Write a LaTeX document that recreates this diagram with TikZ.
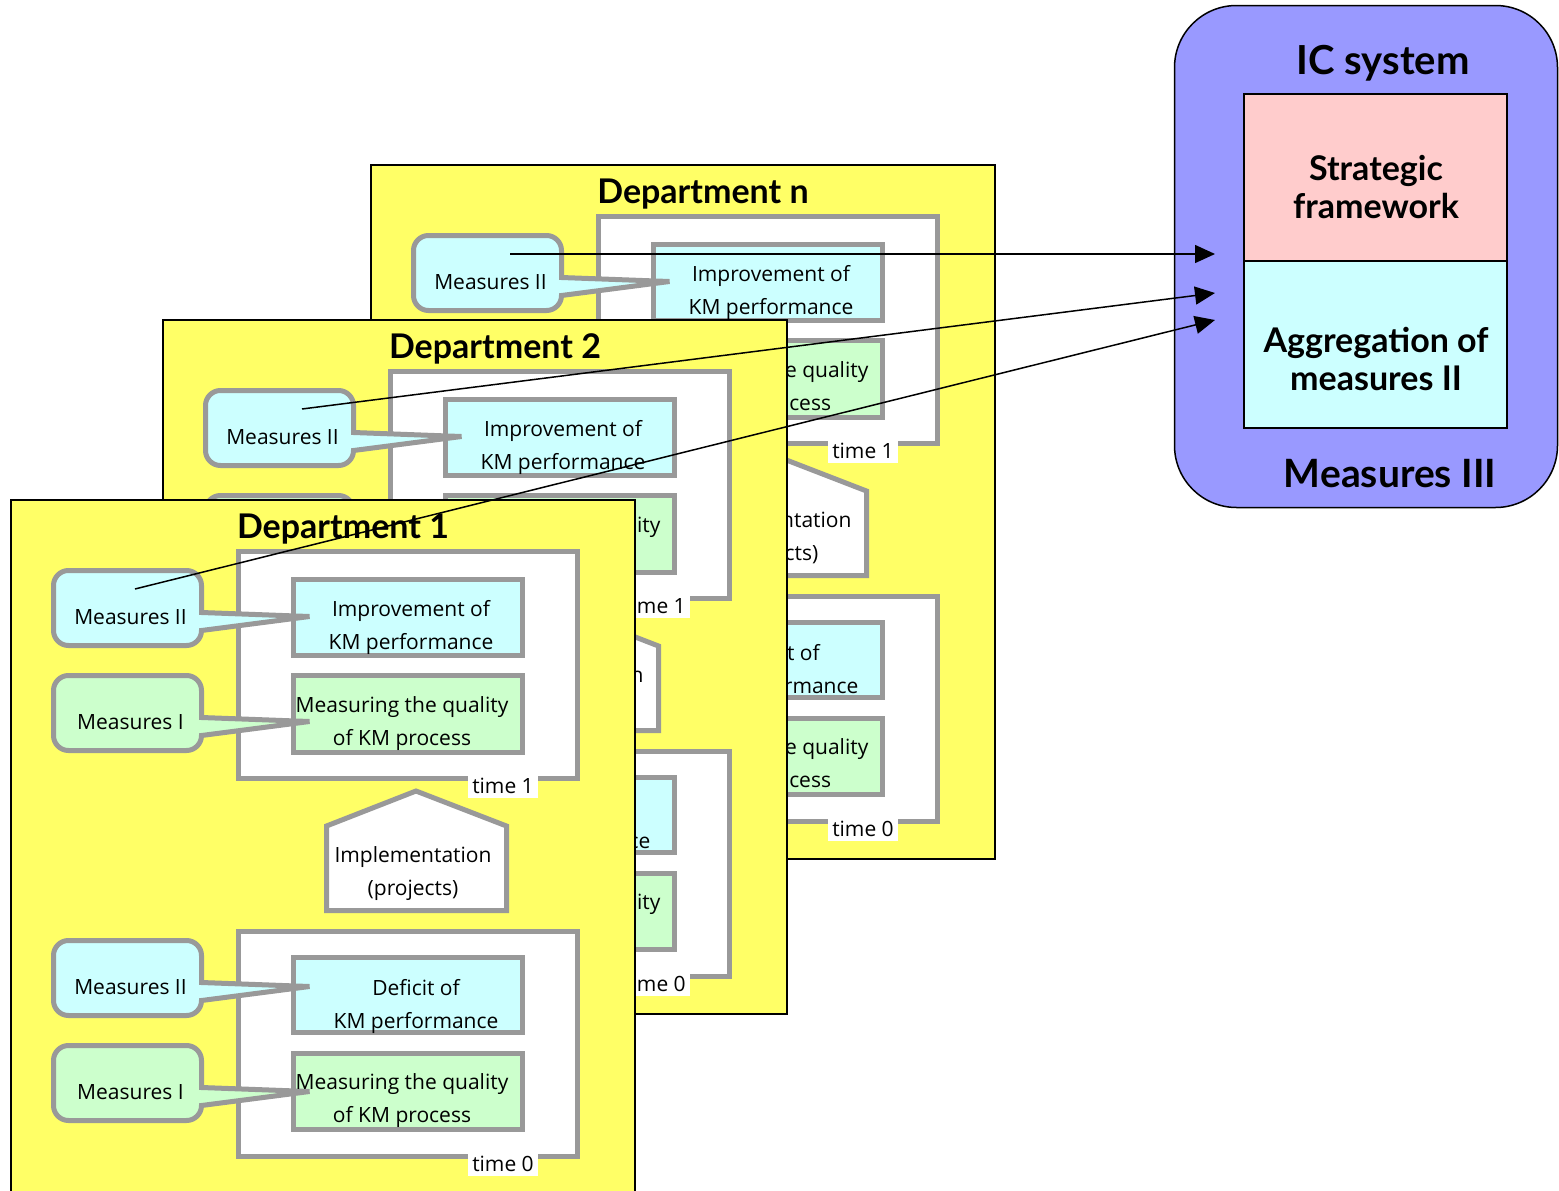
\documentclass[tikz,border=0pt]{standalone}
\usepackage{fontspec}
\setmainfont{Open Sans}
\newfontfamily\titlefont{Lato}
\usetikzlibrary{arrows.meta}

\definecolor{panelyellow}{HTML}{FFFF66}
\definecolor{framegray}{HTML}{999999}
\definecolor{kmcyan}{HTML}{CCFFFF}
\definecolor{kmgreen}{HTML}{CCFFCC}
\definecolor{icpink}{HTML}{FFCCCC}
\definecolor{icviolet}{HTML}{9999FF}

\tikzset{
  panel/.style={draw=black, line width=1.5pt, fill=panelyellow, minimum width=624pt,
    minimum height=694pt, anchor=north west, inner sep=0pt},
  deptitle/.style={font=\titlefont\bfseries\fontsize{34}{38}\selectfont, inner sep=0pt},
  timeframe/.style={draw=framegray, line width=5pt, fill=white, minimum width=339pt, inner sep=0pt},
  kmbox/.style={draw=framegray, line width=5pt, minimum width=229pt, inner sep=0pt},
  kmtext/.style={font=\fontsize{21}{33}\selectfont, align=center, inner sep=0pt},
  timelabel/.style={fill=white, minimum width=70pt, minimum height=25pt, inner sep=0pt,
    font=\fontsize{21}{24}\selectfont},
  bubble/.style={draw=framegray, line width=5pt, line join=miter},
  bubbletext/.style={font=\fontsize{21}{24}\selectfont, inner sep=0pt},
  implshape/.style={draw=framegray, line width=5pt, fill=white, line join=miter},
  icbox/.style={draw=black, line width=1.5pt, minimum width=263pt, minimum height=167pt, inner sep=0pt},
  ictitle/.style={font=\titlefont\bfseries\fontsize{34}{38}\selectfont, align=center, inner sep=0pt},
  link/.style={line width=1.5pt, -{Triangle[length=20pt,width=18pt]}},
}

% speech bubble with a wedge pointing right; #2,#3 = top-left of the outline
\newcommand{\measurebubble}[5]{%
  \begin{scope}[shift={(#2,#3)}]
    \path[bubble, fill=#4] (15,0) -- (133,0) arc[start angle=90, end angle=0, radius=15pt]
      -- (148,42) -- (256,46) -- (148,60)
      arc[start angle=0, end angle=-90, radius=15pt] -- (15,75)
      arc[start angle=-90, end angle=-180, radius=15pt] -- (0,15)
      arc[start angle=180, end angle=90, radius=15pt] -- cycle;
    \node[bubbletext] (#1) at (77,47) {#5};
  \end{scope}}

% one department sheet; #2,#3 = top-left corner of the sheet
\newcommand{\department}[4]{%
  \begin{scope}[shift={(#2,#3)}]
    \node[panel] (#1-panel) at (0,0) {};
    \node[deptitle] (#1-title) at (333,30) {#4};
    \node[timeframe, minimum height=227pt] (#1-t1) at (398,166) {};
    \node[timeframe, minimum height=225pt] (#1-t0) at (398,545) {};
    \node[kmbox, fill=kmcyan, minimum height=76pt] (#1-perf1) at (398,118.5) {};
    \node[kmbox, fill=kmgreen, minimum height=77pt] (#1-qual1) at (398,215) {};
    \node[kmbox, fill=kmcyan, minimum height=75pt] (#1-perf0) at (398,496) {};
    \node[kmbox, fill=kmgreen, minimum height=76pt] (#1-qual0) at (398,592.5) {};
    \node[timelabel] (#1-t1lab) at (493,286.5) {time 1};
    \node[timelabel] (#1-t0lab) at (493,664.5) {time 0};
    \path[implshape] (316.5,411.5) -- (316.5,327) -- (406,292) -- (496.5,327) -- (496.5,411.5) -- cycle;
    \node[kmtext] (#1-impl) at (403,375) {Implementation\\(projects)};
    \measurebubble{#1-m2a}{43.5}{71.5}{kmcyan}{Measures II}
    \measurebubble{#1-m1a}{43.5}{176.5}{kmgreen}{Measures I}
    \measurebubble{#1-m2b}{43.5}{441.5}{kmcyan}{Measures II}
    \measurebubble{#1-m1b}{43.5}{546.5}{kmgreen}{Measures I}
    \node[kmtext] (#1-perf1t) at (401,128.5) {Improvement of\\KM performance};
    \node[kmtext] (#1-qual1t) at (392,224.5) {Measuring the quality\\of KM process};
    \node[kmtext] (#1-perf0t) at (406,507.5) {Deficit of\\KM performance};
    \node[kmtext] (#1-qual0t) at (392,601.5) {Measuring the quality\\of KM process};
  \end{scope}}

\begin{document}
\begin{tikzpicture}[x=1pt, y=-1pt]
  \useasboundingbox (0,0) rectangle (1559,1191);

  \department{dn}{370}{164}{Department n}
  \department{d2}{162}{319}{Department 2}
  \department{d1}{10}{499}{Department 1}

  % IC system
  \node[draw=black, line width=1.5pt, fill=icviolet, rounded corners=62pt,
    minimum width=383pt, minimum height=502pt, inner sep=0pt] (ic) at (1366,256.5) {};
  \node[icbox, fill=icpink] (strat) at (1375.5,177.5) {};
  \node[icbox, fill=kmcyan] (aggr) at (1375.5,344.5) {};
  \node[ictitle, font=\titlefont\bfseries\fontsize{40}{42}\selectfont] (ictitle) at (1383,63) {IC system};
  \node[ictitle] (strattext) at (1376,187) {Strategic\\framework};
  \node[ictitle] (aggrtext) at (1376,359) {Aggregation of\\measures II};
  \node[ictitle, font=\titlefont\bfseries\fontsize{39}{42}\selectfont] (m3) at (1390,474) {Measures III};

  % links from the departments' measures II to the IC system
  \coordinate (dn-src) at (510,254);
  \coordinate (d2-src) at (302,409);
  \coordinate (d1-src) at (135,589);
  \coordinate (ic-in1) at (1215,254);
  \coordinate (ic-in2) at (1215,293);
  \coordinate (ic-in3) at (1215,320);
  \draw[link] (dn-src) -- (ic-in1);
  \draw[link] (d2-src) -- (ic-in2);
  \draw[link] (d1-src) -- (ic-in3);
\end{tikzpicture}
\end{document}
